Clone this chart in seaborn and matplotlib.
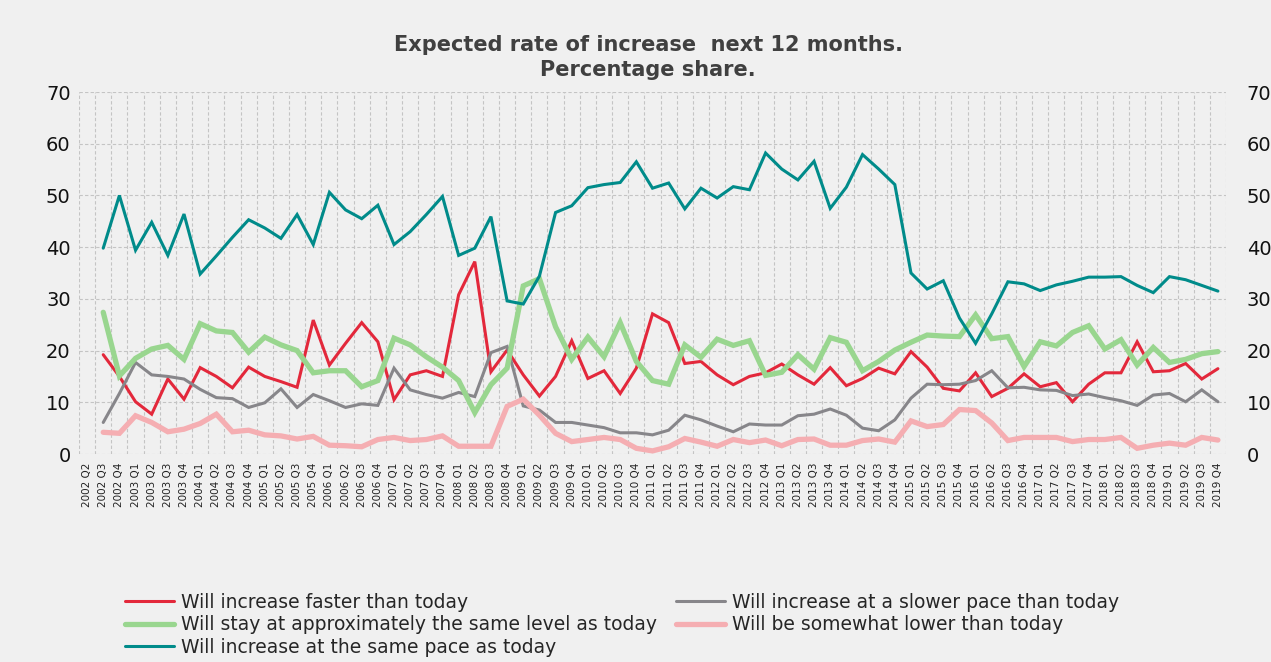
import matplotlib.pyplot as plt
import pandas as pd
import seaborn as sns

# Quarter labels 2002 Q2 - 2019 Q4 (data starts 2002 Q3)
quarters = [f"{y} Q{q}" for y in range(2002, 2020) for q in range(1, 5)][1:]

faster = [19.2, 15.0, 10.1, 7.7, 14.5, 10.6, 16.7, 15.0, 12.8, 16.8, 15.0, 14.0, 12.9, 25.9,
          17.2, 21.4, 25.4, 21.7, 10.5, 15.3, 16.1, 15.0, 30.8, 37.2, 15.9, 20.1, 15.3, 11.2,
          15.0, 21.9, 14.6, 16.1, 11.7, 16.6, 27.1, 25.4, 17.5, 17.9, 15.3, 13.4, 15.0, 15.7,
          17.4, 15.3, 13.5, 16.7, 13.2, 14.6, 16.6, 15.5, 19.8, 16.8, 12.7, 12.2, 15.7, 11.1,
          12.7, 15.5, 13.0, 13.8, 10.1, 13.5, 15.7, 15.7, 21.7, 15.9, 16.1, 17.5, 14.5, 16.5]
slower = [6.1, 11.7, 17.7, 15.3, 15.0, 14.5, 12.5, 10.9, 10.7, 9.0, 9.9, 12.6, 9.0, 11.5,
          10.3, 9.0, 9.7, 9.4, 16.6, 12.4, 11.5, 10.8, 11.9, 11.1, 19.6, 20.8, 9.3, 8.5,
          6.1, 6.1, 5.6, 5.1, 4.1, 4.1, 3.7, 4.6, 7.5, 6.6, 5.4, 4.3, 5.8, 5.6,
          5.6, 7.4, 7.7, 8.7, 7.5, 5.0, 4.5, 6.6, 10.8, 13.5, 13.4, 13.5, 14.2, 16.1,
          12.8, 12.9, 12.4, 12.3, 11.3, 11.6, 10.9, 10.3, 9.4, 11.4, 11.7, 10.1, 12.4, 10.1]
same_level = [27.4, 15.1, 18.5, 20.3, 21.0, 18.3, 25.2, 23.8, 23.5, 19.7, 22.6, 21.1, 20.0, 15.7,
              16.1, 16.1, 13.0, 14.2, 22.4, 21.1, 18.8, 16.8, 14.2, 8.0, 13.4, 16.6, 32.5, 33.9,
              24.6, 18.3, 22.6, 18.8, 25.4, 17.9, 14.2, 13.5, 21.1, 18.7, 22.2, 21.0, 21.9, 15.2,
              15.8, 19.2, 16.4, 22.5, 21.6, 16.1, 17.9, 20.1, 21.6, 23.0, 22.8, 22.7, 26.9, 22.3,
              22.7, 16.9, 21.7, 20.9, 23.5, 24.8, 20.3, 22.1, 17.2, 20.6, 17.7, 18.3, 19.4, 19.8]
lower = [4.2, 4.0, 7.4, 6.1, 4.3, 4.8, 5.9, 7.7, 4.3, 4.6, 3.7, 3.5, 2.9, 3.4,
         1.7, 1.6, 1.4, 2.8, 3.2, 2.6, 2.8, 3.5, 1.5, 1.5, 1.5, 9.2, 10.6, 7.5,
         4.0, 2.4, 2.8, 3.2, 2.8, 1.1, 0.6, 1.4, 3.0, 2.3, 1.5, 2.8, 2.2, 2.7,
         1.6, 2.8, 2.9, 1.7, 1.7, 2.6, 2.9, 2.3, 6.4, 5.3, 5.7, 8.6, 8.4, 6.0,
         2.6, 3.2, 3.2, 3.2, 2.4, 2.8, 2.8, 3.2, 1.1, 1.7, 2.1, 1.7, 3.2, 2.7]
same_pace = [39.8, 50.0, 39.4, 44.8, 38.4, 46.4, 34.8, 38.3, 41.9, 45.3, 43.7, 41.7, 46.3, 40.5,
             50.6, 47.2, 45.5, 48.1, 40.5, 43.0, 46.3, 49.8, 38.4, 39.8, 45.9, 29.6, 29.0, 34.4,
             46.7, 48.0, 51.5, 52.1, 52.5, 56.5, 51.4, 52.4, 47.4, 51.4, 49.5, 51.7, 51.1, 58.2,
             55.1, 53.0, 56.6, 47.5, 51.6, 57.9, 55.1, 52.1, 35.0, 31.9, 33.5, 26.3, 21.4, 27.1,
             33.3, 32.9, 31.6, 32.7, 33.4, 34.2, 34.2, 34.3, 32.6, 31.2, 34.3, 33.7, 32.6, 31.5]

series = [
    ("Will increase faster than today", faster, "#e3283b", 2.2),
    ("Will increase at a slower pace than today", slower, "#87868a", 2.2),
    ("Will stay at approximately the same level as today", same_level, "#99d68f", 3.8),
    ("Will be somewhat lower than today", lower, "#f5aeb2", 3.8),
    ("Will increase at the same pace as today", same_pace, "#008b8a", 2.2),
]

bg = "#f0f0f0"
sns.set_style("white")
plt.rcParams["font.family"] = ["DejaVu Sans"]

fig = plt.figure(figsize=(12.71, 6.62), dpi=100, facecolor=bg)
ax = fig.add_axes([79 / 1271, 1 - 454 / 662, (1226 - 79) / 1271, (454 - 92) / 662])
ax.set_facecolor(bg)

handles = {}
for name, vals, color, lw in series:
    df = pd.DataFrame({"pos": range(1, len(vals) + 1), "value": vals})
    sns.lineplot(data=df, x="pos", y="value", color=color, linewidth=lw, ax=ax,
                 label=name, solid_joinstyle="miter")
    handles[name] = ax.get_lines()[-1]
ax.get_legend().remove()

ax.set_xlim(-0.5, len(quarters) - 0.5)
ax.set_ylim(0, 70)
ax.set_xticks(range(len(quarters)))
ax.set_xticklabels(quarters, rotation=90, fontsize=7.5, color="#222222")
ax.set_xticks([i - 0.5 for i in range(len(quarters) + 1)], minor=True)
ax.set_yticks(range(0, 71, 10))
ax.tick_params(axis="y", labelsize=14, labelcolor="#111111", length=0, pad=6)
ax.tick_params(axis="x", which="major", length=0, pad=6)
ax.tick_params(axis="x", which="minor", length=3, color="#bdbdbd")
ax.grid(True, axis="y", which="major", color="#c4c4c4", linestyle=(0, (3, 2)), linewidth=0.8)
ax.grid(True, axis="x", which="minor", color="#c4c4c4", linestyle=(0, (3, 2)), linewidth=0.8)
ax.grid(False, axis="x", which="major")
for s in ax.spines.values():
    s.set_visible(False)
ax.set_xlabel("")
ax.set_ylabel("")

# secondary (right) axis with same scale
ax2 = ax.twinx()
ax2.set_ylim(0, 70)
ax2.set_yticks(range(0, 71, 10))
ax2.tick_params(axis="y", labelsize=14, labelcolor="#111111", length=0, pad=15)
ax2.grid(False)
for s in ax2.spines.values():
    s.set_visible(False)

fig.text(0.51, 1 - 45 / 662, "Expected rate of increase  next 12 months.", ha="center",
         va="center", fontsize=15, fontweight="bold", color="#404040")
fig.text(0.51, 1 - 70 / 662, "Percentage share.", ha="center", va="center",
         fontsize=15, fontweight="bold", color="#404040")

order = [series[0][0], series[2][0], series[4][0], series[1][0], series[3][0]]
fig.legend([handles[n] for n in order], order, loc="upper left",
           bbox_to_anchor=(125 / 1271, 1 - 593 / 662), ncol=2, frameon=False,
           fontsize=13.5, handlelength=2.6, handletextpad=0.4, columnspacing=1.0,
           labelspacing=0.18, borderpad=0, borderaxespad=0)

fig.savefig("out.png", dpi=100, facecolor=bg)
